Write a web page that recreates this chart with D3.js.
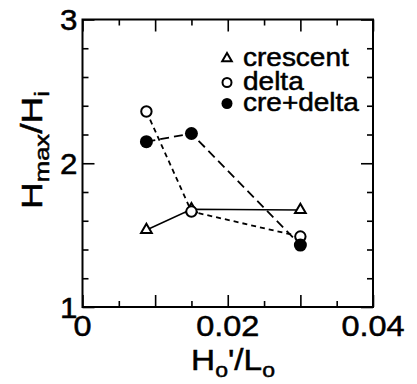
<!DOCTYPE html>
<html>
<head>
<meta charset="utf-8">
<script src="https://cdn.jsdelivr.net/npm/d3@7"></script>
<style>
  html, body { margin: 0; padding: 0; background: #fff; }
  svg text { font-family: "Liberation Sans", Arial, Helvetica, sans-serif; fill: #000; stroke: #000; stroke-width: 0.5px; }
</style>
</head>
<body>
<div id="chart"></div>
<script>
// 数据
const steepness = [0.0088, 0.015, 0.03];
const crescent = [1.536, 1.68, 1.675];
const delta = [2.36, 1.664, 1.49];
const creDelta = [2.15, 2.207, 1.431];
const seriesNames = ['crescent', 'delta', 'cre+delta'];
const xTickLabels = ['0', '0.02', '0.04'];
const yTickLabels = ['1', '2', '3'];

const width = 417, height = 384;
const margin = { top: 19.5, right: 44, bottom: 77, left: 82.5 };
const innerW = width - margin.left - margin.right;
const innerH = height - margin.top - margin.bottom;

const svg = d3.select('#chart').append('svg')
  .attr('width', width)
  .attr('height', height);

const g = svg.append('g')
  .attr('transform', `translate(${margin.left},${margin.top})`);

const x = d3.scaleLinear().domain([0, 0.04]).range([0, innerW]);
const y = d3.scaleLinear().domain([1, 3]).range([innerH, 0]);

// 刻度（向内）
const xTicks = d3.range(0, 9).map(i => i * 0.005);
const yTicks = d3.range(0, 11).map(i => 1 + i * 0.2);
const xLen = v => (Math.round(v / 0.005) % 2 === 0 ? 12 : 6);
const yLen = v => (Math.abs(v - Math.round(v)) < 1e-6 ? 12 : 6);

function styleAxis(sel, lenFn, sign, horizontal) {
  sel.select('.domain').remove();
  sel.selectAll('.tick text').remove();
  sel.selectAll('.tick line')
    .attr('stroke', '#000')
    .attr('stroke-width', 1.6)
    .each(function(d) {
      const l = lenFn(d) * sign;
      if (horizontal) d3.select(this).attr('y2', l).attr('x2', 0);
      else d3.select(this).attr('x2', l).attr('y2', 0);
    });
}

g.append('g').attr('transform', `translate(0,${innerH})`)
  .call(d3.axisBottom(x).tickValues(xTicks))
  .call(s => styleAxis(s, xLen, -1, true));
g.append('g')
  .call(d3.axisTop(x).tickValues(xTicks))
  .call(s => styleAxis(s, xLen, 1, true));
g.append('g')
  .call(d3.axisLeft(y).tickValues(yTicks))
  .call(s => styleAxis(s, yLen, 1, false));
g.append('g').attr('transform', `translate(${innerW},0)`)
  .call(d3.axisRight(y).tickValues(yTicks))
  .call(s => styleAxis(s, yLen, -1, false));

// 边框
g.append('rect')
  .attr('width', innerW)
  .attr('height', innerH)
  .attr('fill', 'none')
  .attr('stroke', '#000')
  .attr('stroke-width', 2);

// 刻度标签
xTickLabels.forEach(t => {
  svg.append('text')
    .attr('transform', `translate(${margin.left + x(+t)},${margin.top + innerH + 29}) scale(1.12,1)`)
    .attr('text-anchor', 'middle')
    .style('font-size', '29px')
    .text(t);
});
yTickLabels.forEach(t => {
  svg.append('text')
    .attr('transform', `translate(${margin.left - 5},${margin.top + y(+t) + 10.5}) scale(1.08,1)`)
    .attr('text-anchor', 'end')
    .style('font-size', '29px')
    .text(t);
});

// 折线
const line = d3.line().x(d => x(d[0])).y(d => y(d[1]));
const series = [
  { name: seriesNames[0], values: crescent, dash: null, sw: 1.5 },
  { name: seriesNames[1], values: delta, dash: '5,4', sw: 1.8 },
  { name: seriesNames[2], values: creDelta, dash: '9,5', sw: 1.8 }
];

series.forEach(s => {
  g.append('path')
    .attr('d', line(steepness.map((v, i) => [v, s.values[i]])))
    .attr('fill', 'none')
    .attr('stroke', '#000')
    .attr('stroke-width', s.sw)
    .attr('stroke-dasharray', s.dash);
});

function marker(sel, i, cx, cy, small) {
  if (i === 0) {
    sel.append('path')
      .attr('d', d3.symbol(d3.symbolTriangle, small ? 40 : 50)())
      .attr('transform', `translate(${cx},${cy})`)
      .attr('fill', '#fff')
      .attr('stroke', '#000')
      .attr('stroke-width', 2);
  } else if (i === 1) {
    sel.append('circle')
      .attr('cx', cx).attr('cy', cy)
      .attr('r', small ? 4.5 : 5.2)
      .attr('fill', '#fff')
      .attr('stroke', '#000')
      .attr('stroke-width', 2);
  } else {
    sel.append('circle')
      .attr('cx', cx).attr('cy', cy)
      .attr('r', small ? 5.5 : 6.5)
      .attr('fill', '#000');
  }
}

series.forEach((s, i) => {
  steepness.forEach((v, j) => marker(g, i, x(v), y(s.values[j]), false));
});

// 图例
const legendY = [58.5, 82.5, 103.5];
series.forEach((s, i) => {
  marker(svg, i, 227, legendY[i], true);
  svg.append('text')
    .attr('transform', `translate(243,${legendY[i] + 7}) scale(1.12,1)`)
    .style('font-size', '25px')
    .text(s.name);
});

// 坐标轴标题
const xt = svg.append('text')
  .attr('transform', `translate(233,370) scale(1.15,1)`)
  .attr('text-anchor', 'middle')
  .style('font-size', '29px');
xt.append('tspan').text('H');
xt.append('tspan').attr('dy', 7).style('font-size', '20px').text('o');
xt.append('tspan').attr('dy', -7).text('\'/L');
xt.append('tspan').attr('dy', 7).style('font-size', '20px').text('o');

const yt = svg.append('text')
  .attr('transform', `translate(42,150) rotate(-90) scale(1.28,1)`)
  .attr('text-anchor', 'middle')
  .style('font-size', '29px');
yt.append('tspan').text('H');
yt.append('tspan').attr('dy', 7).style('font-size', '20px').text('max');
yt.append('tspan').attr('dy', -7).text('/H');
yt.append('tspan').attr('dy', 7).style('font-size', '20px').text('i');
</script>
</body>
</html>
